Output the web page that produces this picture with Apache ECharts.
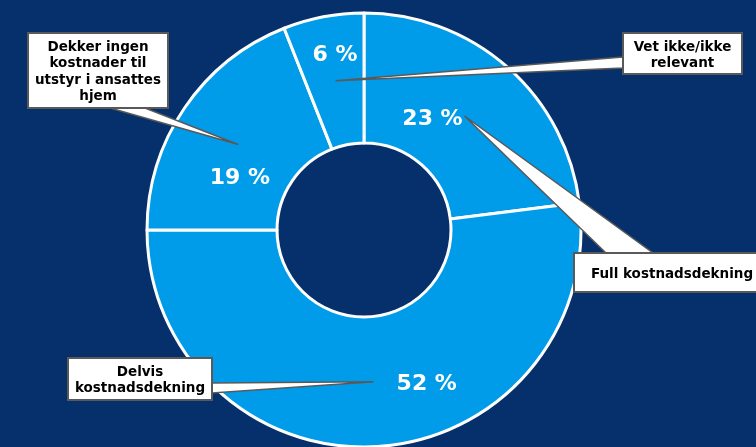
<!DOCTYPE html>
<html>
<head>
<meta charset="utf-8">
<script src="https://cdn.jsdelivr.net/npm/echarts@6/dist/echarts.min.js"></script>
<style>
  html, body { margin: 0; padding: 0; background: #05306b; }
  #chart { width: 756px; height: 447px; }
</style>
</head>
<body>
<div id="chart"></div>
<script>
// Survey answers, clockwise from 12 o'clock
const categories = [
  'Full kostnadsdekning',
  'Delvis kostnadsdekning',
  'Dekker ingen kostnader til utstyr i ansattes hjem',
  'Vet ikke/ikke relevant'
];
const shares = [23, 52, 19, 6];
const calloutLines = [
  ['Full kostnadsdekning'],
  ['Delvis', 'kostnadsdekning'],
  ['Dekker ingen', 'kostnader til', 'utstyr i ansattes', 'hjem'],
  ['Vet ikke/ikke', 'relevant']
];

// Ring geometry
const CENTER = [364, 230];
const R_IN = 87;
const R_OUT = 217;
const R_MID = (R_IN + R_OUT) / 2;

// Nudges of the percentage labels away from the ring's mid-radius
const labelNudge = [[-34, 6], [53, 0], [4, 35], [0, -22]];

// Callout boxes; the pointer leaves the given side between `from` and `to`
const boxes = [
  { x: 574, y: 253, w: 196, h: 39, side: 'top',    from: 32, to: 79, lh: 16 },
  { x: 68,  y: 358, w: 144, h: 42, side: 'right',  from: 25, to: 35, lh: 15.5 },
  { x: 28,  y: 33,  w: 140, h: 75, side: 'bottom', from: 82, to: 117, lh: 16.5 },
  { x: 623, y: 33,  w: 119, h: 41, side: 'left',   from: 24, to: 35, lh: 16 }
];

const SLICE = '#009be9';
const BG = '#05306b';
const BOX_EDGE = '#595959';
const BOX_FONT = 'bold 13.5px "DejaVu Sans", Verdana, sans-serif';

// Mid-angle point of each slice on the ring's mid-radius (pointer tips)
const total = shares.reduce((a, b) => a + b, 0);
let acc = 0;
const tips = shares.map(v => {
  const mid = (acc + v / 2) / total;
  acc += v;
  const a = mid * Math.PI * 2;
  return [CENTER[0] + R_MID * Math.sin(a), CENTER[1] - R_MID * Math.cos(a)];
});

function pointerBase(b) {
  switch (b.side) {
    case 'top':    return [[b.x + b.from, b.y], [b.x + b.to, b.y]];
    case 'bottom': return [[b.x + b.from, b.y + b.h], [b.x + b.to, b.y + b.h]];
    case 'left':   return [[b.x, b.y + b.from], [b.x, b.y + b.to]];
    default:       return [[b.x + b.w, b.y + b.from], [b.x + b.w, b.y + b.to]];
  }
}

const elements = [];
boxes.forEach((b, i) => {
  const base = pointerBase(b);
  elements.push({
    type: 'polygon', z: 10, silent: true,
    shape: { points: [base[0], tips[i], base[1]] },
    style: { fill: '#ffffff', stroke: BOX_EDGE, lineWidth: 1.5, lineJoin: 'miter' }
  });
  elements.push({
    type: 'rect', z: 11, silent: true,
    shape: { x: b.x, y: b.y, width: b.w, height: b.h },
    style: { fill: '#ffffff', stroke: BOX_EDGE, lineWidth: 2 }
  });
  elements.push({
    type: 'text', z: 12, silent: true,
    x: b.x + b.w / 2, y: b.y + b.h / 2 + 1.5,
    style: {
      text: calloutLines[i].join('\n'),
      font: BOX_FONT, fill: '#000000',
      align: 'center', verticalAlign: 'middle', lineHeight: b.lh
    }
  });
});

const chart = echarts.init(document.getElementById('chart'));
chart.setOption({
  backgroundColor: BG,
  animation: false,
  series: [{
    type: 'pie',
    center: CENTER,
    radius: [R_IN, R_OUT],
    startAngle: 90,
    clockwise: true,
    silent: true,
    data: categories.map((name, i) => ({ name, value: shares[i] })),
    itemStyle: { color: SLICE, borderColor: '#ffffff', borderWidth: 3 },
    label: {
      show: true,
      position: 'inside',
      formatter: '{c} %',
      color: '#ffffff',
      fontFamily: '"DejaVu Sans", Verdana, sans-serif',
      fontWeight: 'bold',
      fontSize: 22
    },
    labelLine: { show: false },
    labelLayout: p => ({ dx: labelNudge[p.dataIndex][0], dy: labelNudge[p.dataIndex][1] })
  }],
  graphic: { elements }
});
</script>
</body>
</html>
